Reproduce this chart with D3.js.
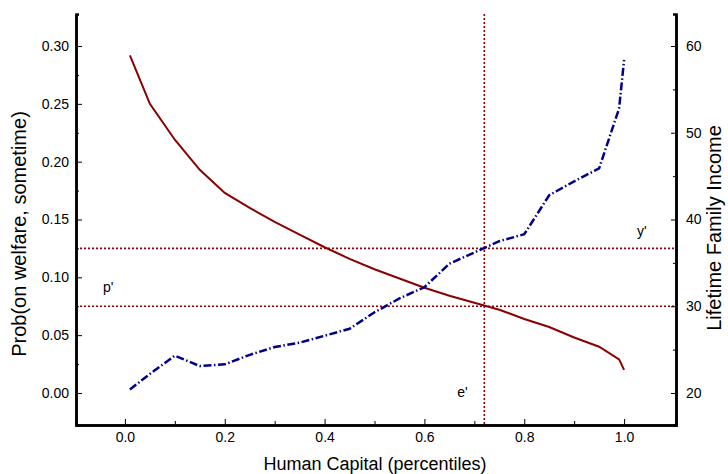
<!DOCTYPE html>
<html>
<head>
<meta charset="utf-8">
<script src="https://cdn.jsdelivr.net/npm/d3@7"></script>
<style>
  body { margin: 0; background: #fff; }
  svg { display: block; font-family: "Liberation Sans", Arial, sans-serif; }
  .axis .domain { stroke: #000; stroke-width: 2.5; }
  .axis line { stroke: #000; stroke-width: 1; }
  .axis text { font-size: 14px; fill: #000; }
</style>
</head>
<body>
<svg width="728" height="474"></svg>
<script>
// percentile points of human capital
const pctl = [0.01, 0.05, 0.10, 0.15, 0.20, 0.25, 0.30, 0.35, 0.40, 0.45, 0.50,
  0.55, 0.60, 0.65, 0.70, 0.75, 0.80, 0.85, 0.90, 0.95, 0.99, 1.00];
// Prob(on welfare, sometime) - left axis
const probWelfare = [0.292, 0.250, 0.219, 0.193, 0.173, 0.160, 0.148, 0.137, 0.126, 0.116, 0.107,
  0.099, 0.091, 0.084, 0.078, 0.072, 0.064, 0.057, 0.048, 0.040, 0.029, 0.020];
// Lifetime family income - right axis
const lifeIncome = [20.4, 22.2, 24.3, 23.1, 23.3, 24.4, 25.3, 25.8, 26.6, 27.4, 29.3,
  30.9, 32.2, 34.9, 36.2, 37.5, 38.3, 42.8, 44.4, 45.9, 52.8, 58.4];

const eMark = 0.72;   // e'
const pMark = 0.075;  // p'
const yMark = 36.67;  // y'

const xTicks = [0.0, 0.2, 0.4, 0.6, 0.8, 1.0];
const xMinor = [0.1, 0.3, 0.5, 0.7, 0.9];
const leftTicks = [0.00, 0.05, 0.10, 0.15, 0.20, 0.25, 0.30];
const leftMinor = [0.025, 0.075, 0.125, 0.175, 0.225, 0.275];
const rightTicks = [20, 30, 40, 50, 60];
const rightMinor = [25, 35, 45, 55];

const svg = d3.select('svg');
const plotL = 76, plotR = 676, plotT = 14, plotB = 425;

const x = d3.scaleLinear().domain([-0.098, 1.104]).range([plotL, plotR]);
const yL = d3.scaleLinear().domain([-0.0277, 0.3277]).range([plotB, plotT]);
const yR = d3.scaleLinear().domain([16.31, 63.69]).range([plotB, plotT]);

const red = '#8b0000';
const blue = '#00008b';

// reference lines
const ref = svg.append('g')
  .attr('stroke', red)
  .attr('stroke-width', 1.6)
  .attr('stroke-dasharray', '2,2');
ref.append('line')
  .attr('x1', x(eMark)).attr('x2', x(eMark))
  .attr('y1', plotT).attr('y2', plotB);
ref.append('line')
  .attr('x1', plotL).attr('x2', plotR)
  .attr('y1', yL(pMark)).attr('y2', yL(pMark));
ref.append('line')
  .attr('x1', plotL).attr('x2', plotR)
  .attr('y1', yR(yMark)).attr('y2', yR(yMark));

// curves
const lineL = d3.line().x((d, i) => x(pctl[i])).y(d => yL(d));
const lineR = d3.line().x((d, i) => x(pctl[i])).y(d => yR(d));

svg.append('path')
  .datum(probWelfare)
  .attr('d', lineL)
  .attr('fill', 'none')
  .attr('stroke', red)
  .attr('stroke-width', 2);

svg.append('path')
  .datum(lifeIncome)
  .attr('d', lineR)
  .attr('fill', 'none')
  .attr('stroke', blue)
  .attr('stroke-width', 2.5)
  .attr('stroke-dasharray', '8,2.5,1.5,2.5');

// axes: minor ticks first, then majors with labels
const fmt2 = d3.format('.2f');
const fmt1 = d3.format('.1f');

svg.append('g').attr('class', 'axis')
  .attr('transform', `translate(${plotL},0)`)
  .call(d3.axisLeft(yL).tickValues(leftMinor).tickSize(-3).tickFormat(''));
svg.append('g').attr('class', 'axis')
  .attr('transform', `translate(${plotL},0)`)
  .call(d3.axisLeft(yL).tickValues(leftTicks).tickSize(-6).tickSizeOuter(0)
    .tickPadding(7).tickFormat(fmt2));

svg.append('g').attr('class', 'axis')
  .attr('transform', `translate(${plotR},0)`)
  .call(d3.axisRight(yR).tickValues(rightMinor).tickSize(-3).tickFormat(''));
svg.append('g').attr('class', 'axis')
  .attr('transform', `translate(${plotR},0)`)
  .call(d3.axisRight(yR).tickValues(rightTicks).tickSize(-5).tickSizeOuter(0)
    .tickPadding(10));

svg.append('g').attr('class', 'axis')
  .attr('transform', `translate(0,${plotB})`)
  .call(d3.axisBottom(x).tickValues(xMinor).tickSize(-4).tickFormat(''));
svg.append('g').attr('class', 'axis')
  .attr('transform', `translate(0,${plotB})`)
  .call(d3.axisBottom(x).tickValues(xTicks).tickSize(-6).tickSizeOuter(0)
    .tickPadding(7).tickFormat(fmt1));

// axis titles
svg.append('text')
  .attr('x', 375).attr('y', 470)
  .attr('text-anchor', 'middle')
  .attr('font-size', 18)
  .text('Human Capital (percentiles)');

svg.append('text')
  .attr('transform', 'translate(26,234) rotate(-90)')
  .attr('text-anchor', 'middle')
  .attr('font-size', 20)
  .text('Prob(on welfare, sometime)');

svg.append('text')
  .attr('transform', 'translate(721,228) rotate(-90)')
  .attr('text-anchor', 'middle')
  .attr('font-size', 20)
  .text('Lifetime Family Income');

// marker labels
const marks = svg.append('g').attr('font-size', 14);
marks.append('text').attr('x', 103).attr('y', yL(pMark) - 14).text("p'");
marks.append('text').attr('x', 637).attr('y', yR(yMark) - 12).text("y'");
marks.append('text').attr('x', x(eMark) - 27).attr('y', 397).text("e'");
</script>
</body>
</html>
